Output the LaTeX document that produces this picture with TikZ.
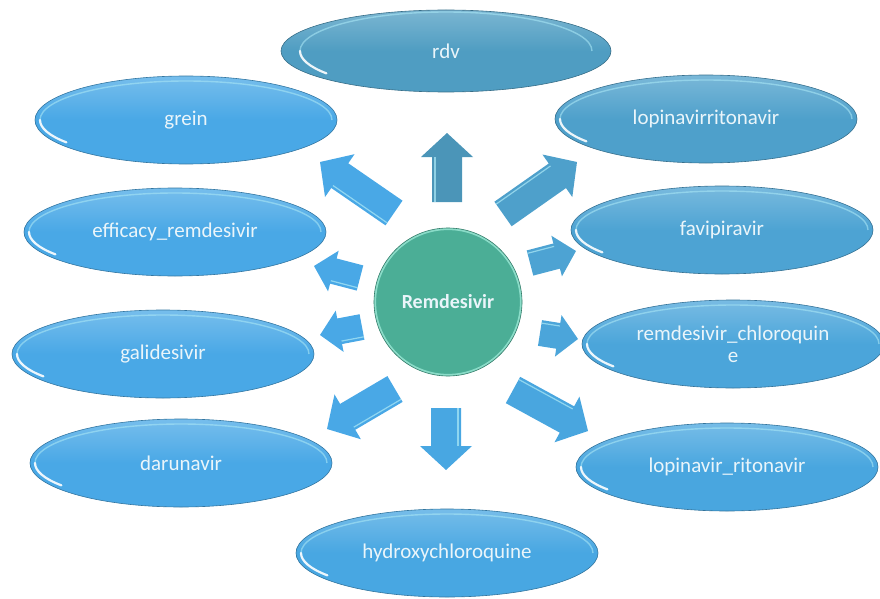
\documentclass[tikz,border=0pt]{standalone}
\usepackage{fontspec}
\setmainfont{Carlito}
\usetikzlibrary{shapes.geometric,calc}

\definecolor{cRdv}{HTML}{4F9DC2}
\definecolor{cLopi}{HTML}{4EA0CB}
\definecolor{cFavi}{HTML}{4DA3D3}
\definecolor{cRemchl}{HTML}{4BA5DA}
\definecolor{cLopr}{HTML}{49A6DF}
\definecolor{cHydro}{HTML}{48A7E2}
\definecolor{cLeft}{HTML}{49A8E6}
\definecolor{cHub}{HTML}{4BAE96}
\definecolor{cHubRim}{HTML}{8ADCC8}
\definecolor{cLabel}{HTML}{EAF5FA}
\definecolor{cRim}{HTML}{A8E6F5}

\tikzset{
  leaf/.style={ellipse, draw=#1!70!black, line width=0.6pt,
    top color=#1!75!white, bottom color=#1, middle color=#1,
    minimum width=302, minimum height=88, inner sep=0pt,
    align=center, text=cLabel, font=\fontsize{21}{22}\selectfont,
    path picture={
      \draw[cRim, line width=1.4pt, opacity=0.6]
        ([xshift=-146pt]path picture bounding box.center)
        arc [start angle=180, end angle=360, x radius=146, y radius=39];
      \draw[white, line width=2.2pt, opacity=0.9, line cap=round]
        ([xshift=-146pt]path picture bounding box.center)
        arc [start angle=180, end angle=145, x radius=146, y radius=39];
    }},
  hubnode/.style={circle, draw=cHubRim, line width=2.2pt, fill=cHub,
    minimum size=146, inner sep=0pt, text=cLabel,
    font=\bfseries\fontsize{20}{21}\selectfont},
  hubedge/.style={draw=cHub!70!black, line width=0.6pt},
  spokehi/.style={cRim, line width=1.2pt, opacity=0.75}
}

% block arrow: name, tail, tip, colour, half shaft, half head, head length
\newcommand\spoke[7]{%
  \coordinate (#1s) at #2;
  \coordinate (#1e) at #3;
  \coordinate (#1n) at ($(#1e)!#7pt!(#1s)$);
  \fill[#4] ($(#1s)!#5pt!90:(#1e)$) -- ($(#1n)!#5pt!-90:(#1s)$)
    -- ($(#1n)!#6pt!-90:(#1s)$) -- (#1e) -- ($(#1n)!#6pt!90:(#1s)$)
    -- ($(#1n)!#5pt!90:(#1s)$) -- ($(#1s)!#5pt!-90:(#1e)$) -- cycle;
  \draw[spokehi] ($(#1s)!#5pt-3pt!90:(#1e)$) -- ($(#1n)!#5pt-3pt!-90:(#1s)$);
}

\begin{document}
\begin{tikzpicture}[x=1pt,y=-1pt]
\useasboundingbox (0,0) rectangle (880,599);

\node[leaf=cRdv, minimum width=330, minimum height=82] (rdv) at (446,51) {rdv};
\node[leaf=cLeft] (grein) at (186,120) {grein};
\node[leaf=cLopi] (lopi) at (706,119) {lopinavirritonavir};
\node[leaf=cLeft] (eff) at (175,232) {efficacy\_remdesivir};
\node[leaf=cFavi] (favi) at (722,230) {favipiravir};
\node[leaf=cLeft] (gali) at (163,354) {galidesivir};
\node[leaf=cRemchl] (remchl) at (733,344) {remdesivir\_chloroquin\\e};
\node[leaf=cLeft] (daru) at (181,463) {darunavir};
\node[leaf=cLopr] (lopr) at (727,467) {lopinavir\_ritonavir};
\node[leaf=cHydro] (hydro) at (447,553) {hydroxychloroquine};

\node[hubnode] (hub) at (448,302) {Remdesivir};
\draw[hubedge] (hub) circle [radius=74];

% spokes from the hub towards each leaf
\spoke{a1}{(447,202)}{(447,133)}{cRdv!95!black}{15}{26}{24}
\spoke{a2}{(394,213)}{(320,162)}{cLeft}{15}{26}{24}
\spoke{a3}{(503,214)}{(577,162)}{cLopi}{15}{26}{24}
\spoke{a4}{(360,278)}{(314,266)}{cLeft}{13}{21}{20}
\spoke{a5}{(530,263)}{(576,251)}{cFavi}{13}{21}{20}
\spoke{a6}{(362,327)}{(320,335)}{cLeft}{13}{21}{20}
\spoke{a7}{(540,333)}{(578,339)}{cRemchl}{13}{21}{20}
\spoke{a8}{(395,389)}{(327,429)}{cLeft}{15}{26}{24}
\spoke{a9}{(446,408)}{(446,470)}{cHydro}{15}{26}{24}
\spoke{a10}{(513,390)}{(588,431)}{cLopr}{15}{26}{24}
\end{tikzpicture}
\end{document}
